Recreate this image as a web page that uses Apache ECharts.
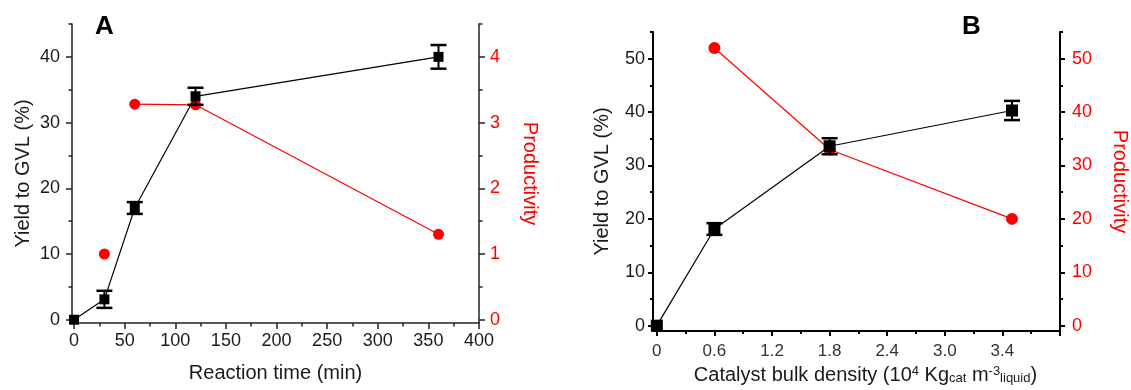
<!DOCTYPE html>
<html>
<head>
<meta charset="utf-8">
<script src="https://cdn.jsdelivr.net/npm/echarts@6/dist/echarts.min.js"></script>
<style>
html,body{margin:0;padding:0;background:#fff;}
#chart{width:1131px;height:390px;}
</style>
</head>
<body>
<div id="chart"></div>
<script>
// ---------- Panel A data ----------
const timeA = [0, 30, 60, 120, 360];
const yieldA = [0, 3.1, 17.0, 34.0, 40.0];
const yieldErrA = [0, 1.3, 0.9, 1.3, 1.8];
const prodTimeA = [30, 60, 120, 360];
const prodA = [1.0, 3.28, 3.27, 1.3];
const prodLinkedFromA = 1; // red line starts at the second point

const xTicksA = [0, 50, 100, 150, 200, 250, 300, 350, 400];
const xMinorA = [25, 75, 125, 175, 225, 275, 325, 375];
const yTicksA = [0, 10, 20, 30, 40];
const yMinorA = [5, 15, 25, 35, 45];
const y2TicksA = [0, 1, 2, 3, 4];
const y2MinorA = [0.5, 1.5, 2.5, 3.5, 4.5];

// ---------- Panel B data ----------
const densityB = [0, 0.6, 1.8, 3.7];
const yieldB = [0, 18.1, 33.6, 40.3];
const yieldErrB = [0, 1.1, 1.5, 1.8];
const prodDensityB = [0.6, 1.8, 3.7];
const prodB = [52, 33, 20];

const xTicksB = [0, 0.6, 1.2, 1.8, 2.4, 3.0, 3.6, 4.2];
const xLabelValsB = [0, 0.6, 1.2, 1.8, 2.4, 3.0, 3.6];
const xLabelTextB = ['0', '0.6', '1.2', '1.8', '2.4', '3.0', '3.4'];
const xMinorB = [0.3, 0.9, 1.5, 2.1, 2.7, 3.3, 3.9];
const yTicksB = [0, 10, 20, 30, 40, 50];
const yMinorB = [5, 15, 25, 35, 45, 55];

const FONT = '"Liberation Sans", Arial, sans-serif';
const RED = '#ff0000';

function pairs(xs, ys) { return xs.map((x, i) => [x, ys[i]]); }
function errData(xs, ys, es) {
  const out = [];
  xs.forEach((x, i) => { if (es[i] > 0) out.push([x, ys[i] - es[i], ys[i] + es[i]]); });
  return out;
}
function errRender(params, api) {
  const x = api.value(0), lo = api.value(1), hi = api.value(2);
  const p1 = api.coord([x, lo]);
  const p2 = api.coord([x, hi]);
  const w = 8;
  return {
    type: 'group',
    children: [
      { type: 'line', shape: { x1: p1[0], y1: p1[1], x2: p2[0], y2: p2[1] }, style: { stroke: '#000', lineWidth: 2 } },
      { type: 'line', shape: { x1: p1[0] - w, y1: p1[1], x2: p1[0] + w, y2: p1[1] }, style: { stroke: '#000', lineWidth: 2.5 } },
      { type: 'line', shape: { x1: p2[0] - w, y1: p2[1], x2: p2[0] + w, y2: p2[1] }, style: { stroke: '#000', lineWidth: 2.5 } }
    ]
  };
}

function mainAxis(o) {
  return {
    type: 'value', gridIndex: o.grid, position: o.pos, min: o.min, max: o.max,
    splitLine: { show: false },
    axisLine: { show: true, onZero: false, lineStyle: { color: o.lineColor || '#000', width: o.lineW } },
    axisTick: { show: true, inside: false, length: o.tickLen, customValues: o.ticks, lineStyle: { color: o.lineColor || '#000', width: o.lineW } },
    axisLabel: {
      show: true, customValues: o.labels, margin: o.margin, color: o.color,
      fontSize: o.fs, fontFamily: FONT, formatter: o.formatter
    },
    name: o.name, nameLocation: 'middle', nameGap: o.nameGap, nameRotate: o.nameRotate,
    nameTextStyle: Object.assign({ color: o.color, fontSize: 20, fontFamily: FONT }, o.nameTextStyle || {})
  };
}
function minorAxis(o) {
  return {
    type: 'value', gridIndex: o.grid, position: o.pos, min: o.min, max: o.max,
    splitLine: { show: false },
    axisLine: { show: false, onZero: false },
    axisTick: { show: true, inside: false, length: o.tickLen, customValues: o.ticks, lineStyle: { color: o.lineColor || '#000', width: o.lineW } },
    axisLabel: { show: false }
  };
}

const chart = echarts.init(document.getElementById('chart'), null, { renderer: 'canvas' });

const option = {
  animation: false,
  backgroundColor: '#fff',
  grid: [
    { left: 72, top: 24, width: 407, height: 299 },
    { left: 653, top: 32, width: 407, height: 300 }
  ],
  xAxis: [
    mainAxis({ grid: 0, pos: 'bottom', min: -2, max: 400, ticks: xTicksA, labels: xTicksA, color: '#1a1a1a', lineW: 1.5, tickLen: 6, margin: 9, fs: 18, name: 'Reaction time (min)', nameGap: 40, lineColor: '#222' }),
    minorAxis({ grid: 0, pos: 'bottom', min: -2, max: 400, ticks: xMinorA, tickLen: 3.5, lineW: 1.5, lineColor: '#222' }),
    mainAxis({
      grid: 1, pos: 'bottom', min: -0.04, max: 4.2, ticks: xTicksB, labels: xLabelValsB, color: '#333', lineW: 2, tickLen: 5, margin: 12, fs: 17,
      formatter: function (v) {
        for (let i = 0; i < xLabelValsB.length; i++) if (Math.abs(xLabelValsB[i] - v) < 1e-6) return xLabelTextB[i];
        return '';
      },
      name: 'Catalyst bulk density (10{sup|4} Kg{sub|cat} m{sup|-3}{sub|liquid})', nameGap: 34,
      nameTextStyle: {
        color: '#1a1a1a', padding: [0, 0, 0, 18],
        rich: {
          sup: { fontSize: 13, fontFamily: FONT, color: '#1a1a1a', verticalAlign: 'top', lineHeight: 18 },
          sub: { fontSize: 13, fontFamily: FONT, color: '#1a1a1a', verticalAlign: 'bottom', lineHeight: 10 }
        }
      }
    }),
    minorAxis({ grid: 1, pos: 'bottom', min: -0.04, max: 4.2, ticks: xMinorB, tickLen: 3, lineW: 2 })
  ],
  yAxis: [
    mainAxis({ grid: 0, pos: 'left', min: -0.5, max: 45, ticks: yTicksA, labels: yTicksA, color: '#1a1a1a', lineW: 1.5, tickLen: 6, margin: 12, fs: 18, name: 'Yield to GVL (%)', nameGap: 39, nameRotate: 90, lineColor: '#222' }),
    minorAxis({ grid: 0, pos: 'left', min: -0.5, max: 45, ticks: yMinorA, tickLen: 3.5, lineW: 1.5, lineColor: '#222' }),
    mainAxis({ grid: 0, pos: 'right', min: -0.05, max: 4.5, ticks: y2TicksA, labels: y2TicksA, color: RED, lineW: 1.5, tickLen: 6, margin: 11, fs: 18, name: 'Productivity', nameGap: 41, nameRotate: -90, lineColor: '#222' }),
    minorAxis({ grid: 0, pos: 'right', min: -0.05, max: 4.5, ticks: y2MinorA, tickLen: 3.5, lineW: 1.5, lineColor: '#222' }),
    mainAxis({ grid: 1, pos: 'left', min: -1, max: 55, ticks: yTicksB, labels: yTicksB, color: '#1a1a1a', lineW: 2, tickLen: 5, margin: 8, fs: 18, name: 'Yield to GVL (%)', nameGap: 41, nameRotate: 90 }),
    minorAxis({ grid: 1, pos: 'left', min: -1, max: 55, ticks: yMinorB, tickLen: 3, lineW: 2 }),
    mainAxis({ grid: 1, pos: 'right', min: -1, max: 55, ticks: yTicksB, labels: yTicksB, color: RED, lineW: 2, tickLen: 5, margin: 12, fs: 18, name: 'Productivity', nameGap: 50, nameRotate: -90 }),
    minorAxis({ grid: 1, pos: 'right', min: -1, max: 55, ticks: yMinorB, tickLen: 3, lineW: 2 })
  ],
  series: [
    // Panel A productivity
    { type: 'line', xAxisIndex: 0, yAxisIndex: 2, data: pairs(prodTimeA, prodA).slice(prodLinkedFromA), symbol: 'none', lineStyle: { color: RED, width: 1.2 }, z: 2 },
    { type: 'scatter', xAxisIndex: 0, yAxisIndex: 2, data: pairs(prodTimeA, prodA), symbol: 'circle', symbolSize: 11, itemStyle: { color: RED, opacity: 1 }, z: 3 },
    // Panel A yield
    { type: 'line', xAxisIndex: 0, yAxisIndex: 0, data: pairs(timeA, yieldA), symbol: 'rect', symbolSize: 10, itemStyle: { color: '#000' }, lineStyle: { color: '#000', width: 1.2 }, z: 4 },
    { type: 'custom', xAxisIndex: 0, yAxisIndex: 0, data: errData(timeA, yieldA, yieldErrA), renderItem: errRender, encode: { x: 0, y: [1, 2] }, z: 5 },
    // Panel B productivity
    { type: 'line', xAxisIndex: 2, yAxisIndex: 6, data: pairs(prodDensityB, prodB), symbol: 'circle', symbolSize: 12, itemStyle: { color: RED, opacity: 1 }, lineStyle: { color: RED, width: 1.2 }, z: 2 },
    // Panel B yield
    { type: 'line', xAxisIndex: 2, yAxisIndex: 4, data: pairs(densityB, yieldB), symbol: 'rect', symbolSize: 12, itemStyle: { color: '#000' }, lineStyle: { color: '#000', width: 1.2 }, z: 4 },
    { type: 'custom', xAxisIndex: 2, yAxisIndex: 4, data: errData(densityB, yieldB, yieldErrB), renderItem: errRender, encode: { x: 0, y: [1, 2] }, z: 5 }
  ],
  graphic: [
    { type: 'text', left: 95, top: 14, style: { text: 'A', font: 'bold 26px "Liberation Sans", Arial, sans-serif', fill: '#000' } },
    { type: 'text', left: 962, top: 14, style: { text: 'B', font: 'bold 26px "Liberation Sans", Arial, sans-serif', fill: '#000' } }
  ]
};
chart.setOption(option);
</script>
</body>
</html>
